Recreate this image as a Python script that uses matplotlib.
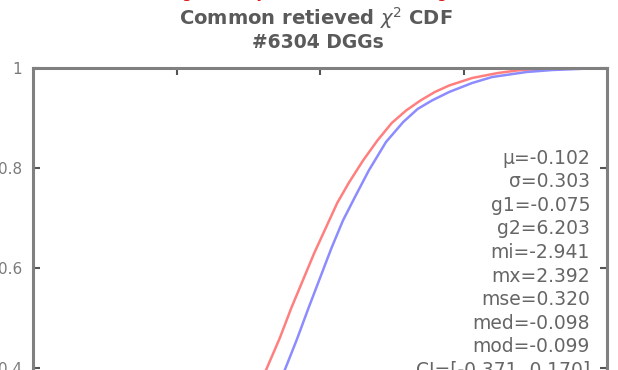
import matplotlib
matplotlib.use("Agg")
import matplotlib.pyplot as plt
from matplotlib.ticker import FormatStrFormatter

# CDF curves (x, cumulative fraction)
red_x = [-0.20, -0.185, -0.14, -0.10, -0.06, -0.02, 0.02, 0.06, 0.10, 0.15, 0.20,
         0.25, 0.30, 0.35, 0.40, 0.45, 0.53, 0.62, 0.70, 0.77, 0.98]
red_y = [0.38, 0.40, 0.46, 0.52, 0.575, 0.63, 0.68, 0.73, 0.77, 0.815, 0.855,
         0.89, 0.915, 0.935, 0.952, 0.965, 0.98, 0.99, 0.996, 0.999, 1.0]

blue_x = [-0.135, -0.12, -0.08, -0.04, 0.0, 0.04, 0.08, 0.12, 0.17, 0.23, 0.29,
          0.34, 0.39, 0.45, 0.53, 0.60, 0.72, 0.81, 0.98]
blue_y = [0.38, 0.40, 0.458, 0.52, 0.58, 0.64, 0.695, 0.74, 0.795, 0.852, 0.892,
          0.918, 0.935, 0.952, 0.97, 0.982, 0.992, 0.996, 1.0]

y_ticks = [0.0, 0.2, 0.4, 0.6, 0.8, 1.0]
x_ticks = [-0.5, 0.0, 0.5]

stats = ["\u03bc=-0.102", "\u03c3=0.303", "g1=-0.075", "g2=6.203", "mi=-2.941",
         "mx=2.392", "mse=0.320", "med=-0.098", "mod=-0.099", "CI=[-0.371, 0.170]"]

W, H = 618, 370
fig = plt.figure(figsize=(W / 100, H / 100), dpi=100)

# axes runs past the bottom of the picture (the reference is a crop)
ax = fig.add_axes([33 / W, 1 - 568 / H, 574 / W, 500 / H])
ax.plot(red_x, red_y, color="red", alpha=0.5, lw=1.8)
ax.plot(blue_x, blue_y, color="blue", alpha=0.45, lw=1.8)
ax.set_xlim(-1, 1)
ax.set_ylim(0, 1)
ax.set_xticks(x_ticks)
ax.set_yticks(y_ticks)
ax.yaxis.set_major_formatter(FormatStrFormatter("%g"))
ax.tick_params(direction="in", length=5, width=1.5, color="#555555",
               top=True, right=True, labelbottom=False,
               labelsize=11, labelcolor="#7a7a7a", pad=8)
for s in ax.spines.values():
    s.set_color("#808080")
    s.set_linewidth(2.2)

# title
fig.text(316 / W, 1 - 18 / H, r"Common retieved $\chi^2$ CDF", ha="center", va="center",
         fontsize=14, fontweight="bold", color="#5a5a5a")
fig.text(318 / W, 1 - 43 / H, "#6304 DGGs", ha="center", va="center",
         fontsize=13.5, fontweight="bold", color="#5a5a5a")

# red caption, only its descenders are left inside the crop
fig.text(273 / W, 1 + 3 / H, "Integration (y)", ha="right", va="baseline",
         fontsize=12.5, color="#dd1111")
fig.text(528 / W, 1 + 3 / H, "Integration (x)", ha="right", va="baseline",
         fontsize=12.5, color="#dd1111")

# statistics box
for i, line in enumerate(stats):
    fig.text(590 / W, 1 - (158 + i * 23.6) / H, line, ha="right", va="center",
             fontsize=13.5, color="#666666")

fig.savefig("out.png", dpi=100)
